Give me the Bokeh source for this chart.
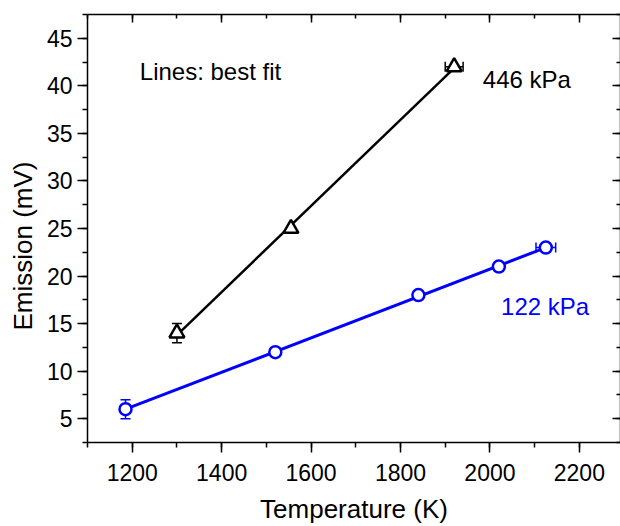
import numpy as np
from bokeh.plotting import figure
from bokeh.models import (ColumnDataSource, LinearAxis, SingleIntervalTicker,
                          Whisker, TeeHead, Label, Range1d, Title)
from bokeh.embed import file_html
from bokeh.resources import INLINE

# ---- data ----
t_122 = [1185, 1520, 1840, 2020, 2125]
e_122 = [6, 12, 18, 21, 23]
yerr_122 = [1.0, 0, 0, 0, 0]
xerr_122 = [0, 0, 0, 0, 22]

t_446 = [1300, 1555, 1920]
e_446 = [14, 25, 42]
yerr_446 = [1.0, 0, 0]
xerr_446 = [0, 0, 20]

BLUE = "#0000FF"
FONT = "Liberation Sans"

p = figure(width=620, height=526, output_backend="svg", toolbar_location=None,
           x_range=Range1d(1100, 2292), y_range=Range1d(2.5, 47.5),
           min_border_left=87, min_border_bottom=83, min_border_top=14,
           min_border_right=0, x_axis_location=None, y_axis_location=None)
p.outline_line_color = None
p.xgrid.visible = False
p.ygrid.visible = False
p.background_fill_color = "white"
p.border_fill_color = "white"


def style_axis(ax, ticker, labels=True, inward=False):
    ax.ticker = ticker
    ax.axis_line_width = 1.5
    ax.axis_line_color = "black"
    ax.major_tick_line_width = 1.5
    ax.minor_tick_line_width = 1.5
    ax.major_tick_line_color = "black"
    ax.minor_tick_line_color = "black"
    if inward:
        ax.major_tick_in = 8
        ax.major_tick_out = 0
        ax.minor_tick_in = 4
        ax.minor_tick_out = 0
    else:
        ax.major_tick_in = 0
        ax.major_tick_out = 10
        ax.minor_tick_in = 0
        ax.minor_tick_out = 5
    if labels:
        ax.major_label_text_font = FONT
        ax.major_label_text_font_size = "23px"
        ax.major_label_text_color = "black"
    else:
        ax.major_label_text_font_size = "1px"
        ax.major_label_text_color = None
        ax.major_label_standoff = 0


xt = lambda: SingleIntervalTicker(interval=200, num_minor_ticks=2)
yt = lambda: SingleIntervalTicker(interval=5, num_minor_ticks=2)

bottom = LinearAxis()
style_axis(bottom, xt())
bottom.major_label_standoff = 11
bottom.axis_label = "Temperature (K)"
bottom.axis_label_text_font = FONT
bottom.axis_label_text_font_size = "26px"
bottom.axis_label_text_font_style = "normal"
bottom.axis_label_text_color = "black"
bottom.axis_label_standoff = 10
p.add_layout(bottom, "below")

left = LinearAxis()
style_axis(left, yt())
left.major_label_standoff = 5
p.add_layout(left, "left")

top = LinearAxis()
style_axis(top, xt(), labels=False, inward=True)
p.add_layout(top, "above")

right = LinearAxis()
style_axis(right, yt(), labels=False, inward=True)
p.add_layout(right, "right")

# y-axis title, shifted along the axis as in the reference
ytitle = Title(text="Emission (mV)", align="left", offset=112, standoff=10,
               text_font=FONT, text_font_size="26px", text_font_style="normal",
               text_color="black", vertical_align="middle")
p.add_layout(ytitle, "left")

# ---- best fit lines ----
def fit_line(xs, ys):
    k, b = np.polyfit(xs, ys, 1)
    xx = np.array([min(xs), max(xs)], dtype=float)
    return xx, k * xx + b

fx, fy = fit_line(t_446, e_446)
p.line(fx, fy, line_color="black", line_width=2.5)
fx, fy = fit_line(t_122, e_122)
p.line(fx, fy, line_color=BLUE, line_width=3)

# ---- error bars ----
def add_errors(xs, ys, xerr, yerr, color):
    ys_idx = [i for i, e in enumerate(yerr) if e > 0]
    if ys_idx:
        src = ColumnDataSource(dict(
            x=[xs[i] for i in ys_idx],
            lo=[ys[i] - yerr[i] for i in ys_idx],
            hi=[ys[i] + yerr[i] for i in ys_idx]))
        p.add_layout(Whisker(source=src, base="x", lower="lo", upper="hi",
                             dimension="height", line_color=color, line_width=1.5,
                             level="underlay",
                             lower_head=TeeHead(size=10, line_color=color, line_width=1.5),
                             upper_head=TeeHead(size=10, line_color=color, line_width=1.5)))
    xs_idx = [i for i, e in enumerate(xerr) if e > 0]
    if xs_idx:
        src = ColumnDataSource(dict(
            y=[ys[i] for i in xs_idx],
            lo=[xs[i] - xerr[i] for i in xs_idx],
            hi=[xs[i] + xerr[i] for i in xs_idx]))
        p.add_layout(Whisker(source=src, base="y", lower="lo", upper="hi",
                             dimension="width", line_color=color, line_width=1.5,
                             level="underlay",
                             lower_head=TeeHead(size=10, line_color=color, line_width=1.5),
                             upper_head=TeeHead(size=10, line_color=color, line_width=1.5)))

add_errors(t_446, e_446, xerr_446, yerr_446, "black")
add_errors(t_122, e_122, xerr_122, yerr_122, BLUE)

# ---- markers ----
p.scatter(t_446, e_446, marker="triangle", size=15, line_color="black",
          line_width=2.5, fill_color="white")
p.scatter(t_122, e_122, marker="circle", size=12, line_color=BLUE,
          line_width=2.5, fill_color="white")

# ---- texts ----
p.add_layout(Label(x=1217, y=41.5, text="Lines: best fit", text_font=FONT,
                   text_font_size="24px", text_color="black",
                   text_baseline="middle", text_align="left"))
p.add_layout(Label(x=1984, y=40.7, text="446 kPa", text_font=FONT,
                   text_font_size="24px", text_color="black",
                   text_baseline="middle", text_align="left"))
p.add_layout(Label(x=2025, y=16.8, text="122 kPa", text_font=FONT,
                   text_font_size="24px", text_color=BLUE,
                   text_baseline="middle", text_align="left"))

open("out.html", "w").write(file_html(p, INLINE))
